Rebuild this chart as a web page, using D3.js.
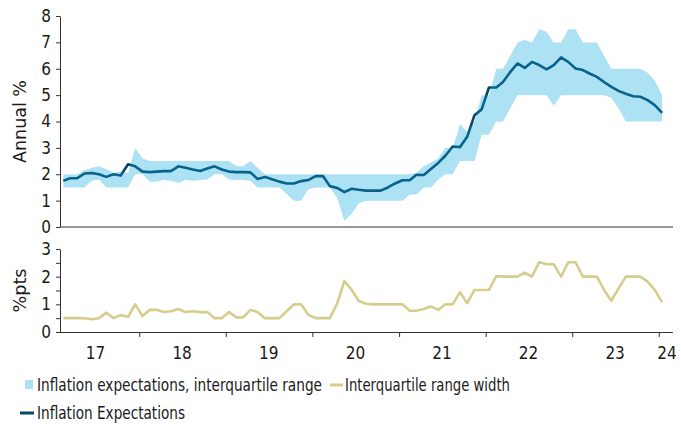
<!DOCTYPE html>
<html>
<head>
<meta charset="utf-8">
<script src="https://cdn.jsdelivr.net/npm/d3@7"></script>
<style>
  body { margin: 0; background: #fff; }
  svg text { font-family: "DejaVu Sans Condensed", "DejaVu Sans", sans-serif; font-stretch: condensed; fill: #1a1a1a; }
</style>
</head>
<body>
<div id="chart"></div>
<script>
// monthly survey, Feb 2017 - Jan 2024
const firstMonth = new Date(2017, 1, 15)
const monthCount = 84

const median = [
  1.75, 1.85, 1.85, 2.03, 2.05, 2.0, 1.9, 2.0, 1.95, 2.38,
  2.3, 2.1, 2.08, 2.1, 2.12, 2.12, 2.3, 2.25, 2.18, 2.12,
  2.22, 2.3, 2.18, 2.1, 2.08, 2.08, 2.07, 1.82, 1.9, 1.81,
  1.72, 1.65, 1.65, 1.74, 1.78, 1.93, 1.93, 1.55, 1.48, 1.32,
  1.45, 1.41, 1.38, 1.38, 1.38, 1.5, 1.65, 1.77, 1.77, 1.98,
  1.97, 2.2, 2.43, 2.7, 3.05, 3.03, 3.42, 4.24, 4.46, 5.29,
  5.29, 5.5, 5.88, 6.2, 6.03, 6.26, 6.14, 5.98, 6.14, 6.43,
  6.26, 6.01, 5.95, 5.82, 5.69, 5.5, 5.31, 5.16, 5.05, 4.96,
  4.94, 4.81, 4.62, 4.33
]

const upper = [
  2.0, 2.0, 2.0, 2.15, 2.25, 2.3, 2.2, 2.05, 2.1, 2.05,
  3.0, 2.6, 2.5, 2.5, 2.5, 2.5, 2.5, 2.5, 2.5, 2.5,
  2.5, 2.5, 2.5, 2.5, 2.3, 2.3, 2.5, 2.25, 2.0, 2.0,
  2.0, 2.0, 2.0, 2.0, 2.0, 2.0, 2.0, 2.0, 2.0, 2.0,
  2.0, 2.0, 2.0, 2.0, 2.0, 2.0, 2.0, 2.0, 2.0, 2.05,
  2.3, 2.45, 2.6, 3.0, 3.0, 3.9, 3.6, 4.0, 5.0, 5.0,
  6.0, 6.0, 6.5, 7.0, 7.1, 7.0, 7.5, 7.4, 7.0, 7.0,
  7.5, 7.5, 7.0, 7.0, 7.0, 6.5, 6.0, 6.0, 6.0, 6.0,
  6.0, 5.85, 5.55, 5.0
]

const lower = [
  1.5, 1.5, 1.5, 1.5, 1.75, 1.8, 1.5, 1.5, 1.5, 1.5,
  2.0, 2.0, 1.72, 1.72, 1.78, 1.75, 1.67, 1.78, 1.75, 1.78,
  1.8, 2.0, 2.0, 1.8, 1.78, 1.78, 1.75, 1.5, 1.5, 1.5,
  1.5, 1.25, 1.0, 1.0, 1.43, 1.5, 1.5, 1.5, 1.1, 0.24,
  0.5, 0.9, 1.0, 1.0, 1.0, 1.0, 1.0, 1.0, 1.23, 1.23,
  1.5, 1.5, 1.8, 2.0, 2.0, 2.5, 2.5, 2.5, 3.5, 3.5,
  4.0, 4.0, 4.5, 5.0, 5.0, 5.0, 5.0, 5.0, 4.6, 5.0,
  5.0, 5.0, 5.0, 5.0, 5.0, 5.0, 4.9, 4.5, 4.0, 4.0,
  4.0, 4.0, 4.0, 4.0
]

const rangeWidth = [
  0.5, 0.5, 0.5, 0.5, 0.46, 0.5, 0.7, 0.5, 0.61, 0.55,
  1.0, 0.58, 0.8, 0.8, 0.72, 0.75, 0.83, 0.72, 0.75, 0.72,
  0.72, 0.5, 0.5, 0.72, 0.53, 0.53, 0.8, 0.72, 0.5, 0.5,
  0.5, 0.75, 1.0, 1.0, 0.62, 0.5, 0.5, 0.5, 1.03, 1.84,
  1.52, 1.12, 1.02, 1.0, 1.0, 1.0, 1.0, 1.0, 0.77, 0.77,
  0.83, 0.92, 0.8, 1.0, 1.0, 1.44, 1.04, 1.52, 1.52, 1.52,
  2.02, 2.0, 2.0, 2.0, 2.15, 2.0, 2.52, 2.45, 2.45, 2.0,
  2.52, 2.52, 2.0, 2.0, 2.0, 1.52, 1.13, 1.57, 2.0, 2.0,
  2.0, 1.82, 1.52, 1.07
]

const yearLabels = ["17", "18", "19", "20", "21", "22", "23", "24"]
const topTicks = [0, 1, 2, 3, 4, 5, 6, 7, 8]
const bottomTicks = [0, 0.5, 1, 1.5, 2, 2.5, 3]

const dates = d3.range(monthCount).map(i => d3.timeMonth.offset(firstMonth, i))
const rows = dates.map((d, i) => ({ date: d, mid: median[i], hi: upper[i], lo: lower[i], w: rangeWidth[i] }))

const W = 681, H = 424
const left = 60, right = 673
const top1 = 16, bot1 = 227
const top2 = 249, bot2 = 332

const svg = d3.select("#chart").append("svg")
  .attr("width", W)
  .attr("height", H)

const x = d3.scaleTime()
  .domain([new Date(2017, 1, 1), new Date(2024, 2, 1)])
  .range([left, right])

const y1 = d3.scaleLinear().domain([0, 8]).range([bot1, top1])
const y2 = d3.scaleLinear().domain([0, 3]).range([bot2, top2])

const navy = "#0b4466"
const gold = "#d6cd8c"

// Top panel: median line under a translucent band
svg.append("path")
  .datum(rows)
  .attr("fill", "none")
  .attr("stroke", navy)
  .attr("stroke-width", 2.6)
  .attr("stroke-linejoin", "round")
  .attr("d", d3.line().x(d => x(d.date)).y(d => y1(d.mid)))

svg.append("path")
  .datum(rows)
  .attr("fill", "#00a6dc")
  .attr("fill-opacity", 0.32)
  .attr("d", d3.area().x(d => x(d.date)).y0(d => y1(d.lo)).y1(d => y1(d.hi)))

// Top axes
svg.append("g")
  .attr("transform", `translate(${left},0)`)
  .call(d3.axisLeft(y1).tickValues(topTicks).tickSize(4).tickSizeOuter(0).tickPadding(5))
  .call(g => g.selectAll("text").attr("font-size", 17))

svg.append("line")
  .attr("x1", left).attr("x2", right)
  .attr("y1", bot1).attr("y2", bot1)
  .attr("stroke", "#333")

// Bottom panel
svg.append("path")
  .datum(rows)
  .attr("fill", "none")
  .attr("stroke", gold)
  .attr("stroke-width", 2.6)
  .attr("stroke-linejoin", "round")
  .attr("d", d3.line().x(d => x(d.date)).y(d => y2(d.w)))

svg.append("g")
  .attr("transform", `translate(${left},0)`)
  .call(d3.axisLeft(y2).tickValues(bottomTicks).tickSize(4).tickSizeOuter(0).tickPadding(5)
    .tickFormat(d => Number.isInteger(d) ? d : ""))
  .call(g => g.selectAll("text").attr("font-size", 17))

const yearTicks = d3.range(2018, 2025).map(y => new Date(y, 0, 1))
svg.append("g")
  .attr("transform", `translate(0,${bot2})`)
  .call(d3.axisBottom(x).tickValues(yearTicks).tickSize(5).tickSizeOuter(0).tickFormat(""))
  .call(g => g.select(".domain").attr("d", `M${left},0.5H${right}`))

// year labels at mid-year, last one squeezed into the remaining stub
svg.append("g").selectAll("text")
  .data(yearLabels)
  .join("text")
  .attr("x", (d, i) => i < 7 ? x(new Date(2017 + i, 6, 1)) : x(new Date(2024, 1, 5)))
  .attr("y", 359)
  .attr("text-anchor", "middle")
  .attr("font-size", 17)
  .text(d => d)

svg.selectAll(".domain, .tick line").attr("stroke", "#333")

// Axis titles
svg.append("text")
  .attr("transform", `translate(26,${(top1 + bot1) / 2}) rotate(-90)`)
  .attr("text-anchor", "middle")
  .attr("font-size", 17)
  .attr("textLength", 83)
  .attr("lengthAdjust", "spacingAndGlyphs")
  .text("Annual %")

svg.append("text")
  .attr("transform", `translate(26,${(top2 + bot2) / 2}) rotate(-90)`)
  .attr("text-anchor", "middle")
  .attr("font-size", 17)
  .attr("textLength", 44)
  .attr("lengthAdjust", "spacingAndGlyphs")
  .text("%pts")

// Legend
const lg = svg.append("g").attr("font-size", 17)
lg.append("rect").attr("x", 25).attr("y", 380).attr("width", 8).attr("height", 9)
  .attr("fill", "#00a6dc").attr("fill-opacity", 0.32)
lg.append("text").attr("x", 37).attr("y", 391)
  .attr("textLength", 285).attr("lengthAdjust", "spacingAndGlyphs")
  .text("Inflation expectations, interquartile range")
lg.append("line").attr("x1", 330).attr("x2", 343).attr("y1", 385).attr("y2", 385)
  .attr("stroke", gold).attr("stroke-width", 3)
lg.append("text").attr("x", 345).attr("y", 391)
  .attr("textLength", 165).attr("lengthAdjust", "spacingAndGlyphs")
  .text("Interquartile range width")
lg.append("line").attr("x1", 20).attr("x2", 34).attr("y1", 413).attr("y2", 413)
  .attr("stroke", navy).attr("stroke-width", 3)
lg.append("text").attr("x", 37).attr("y", 419)
  .attr("textLength", 148).attr("lengthAdjust", "spacingAndGlyphs")
  .text("Inflation Expectations")
</script>
</body>
</html>
